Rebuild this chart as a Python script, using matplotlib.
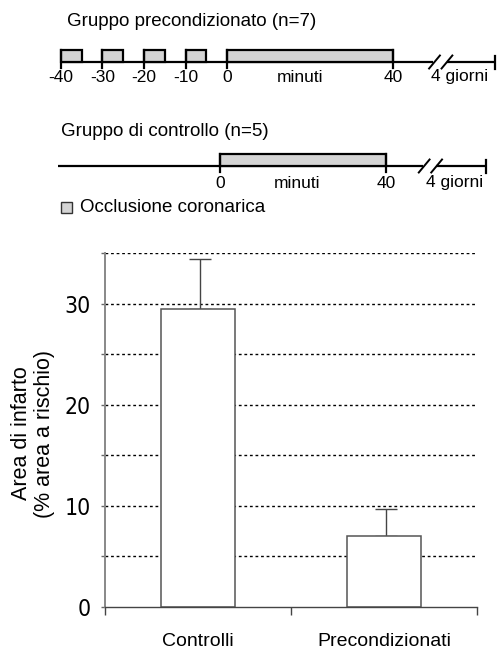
import matplotlib
matplotlib.use("Agg")
import matplotlib.pyplot as plt
from matplotlib.patches import Rectangle
from matplotlib import font_manager

# ---------------- data ----------------
groups = ["Controlli", "Precondizionati"]
infarct_mean = [29.5, 7.0]
infarct_sem = [4.9, 2.7]
y_major_ticks = [0, 10, 20, 30]
y_minor_ticks = [5, 15, 25, 35]

precond_occlusion_starts = [-40, -30, -20, -10, 0]
precond_occlusion_lengths = [5, 5, 5, 5, 40]
precond_tick_labels = ["-40", "-30", "-20", "-10", "0", "40"]
precond_tick_pos = [-40, -30, -20, -10, 0, 40]
control_occlusion_starts = [0]
control_occlusion_lengths = [40]
control_tick_labels = ["0", "40"]
control_tick_pos = [0, 40]

title_pre = "Gruppo precondizionato (n=7)"
title_ctl = "Gruppo di controllo (n=5)"
legend_text = "Occlusione coronarica"
ylabel = "Area di infarto\n(% area a rischio)"

W, H = 501, 650
fig = plt.figure(figsize=(W / 100, H / 100), dpi=100)
plt.rcParams['font.family'] = ['Liberation Sans', 'DejaVu Sans']

# pick a condensed font for the y tick labels if one is installed
narrow_family = None
narrow_stretch = "normal"
for f in font_manager.fontManager.ttflist:
    if "Narrow" in f.name and "Liberation" in f.name:
        narrow_family = f.name
        break
if narrow_family is None:
    for f in font_manager.fontManager.ttflist:
        if f.name == "DejaVu Sans" and str(f.stretch) in ("condensed", "semi-condensed", "600", "500") \
                and f.style == "normal" and f.weight in (400, "normal"):
            narrow_family = "DejaVu Sans"
            narrow_stretch = f.stretch
            break
if narrow_family is None:
    narrow_family = "Liberation Sans"

GRAY_FILL = "#d4d4d4"
LW = 1.6
SCALE = 4.15  # px per minute

def timeline_axes(zero_px):
    ax = fig.add_axes([0, 1 - 225 / H, 1, 225 / H])
    ax.set_xlim(-zero_px / SCALE, (W - zero_px) / SCALE)
    ax.set_ylim(225, 0)
    ax.axis("off")
    return ax

def draw_timeline(ax, y, box_h, start, brk, end, starts, lengths, tpos, tlabels, label_y,
                  minuti_x, giorni_x):
    ax.plot([start, brk - 0.9], [y, y], color="black", lw=LW, solid_capstyle="butt")
    ax.plot([brk + 2.3, end], [y, y], color="black", lw=LW, solid_capstyle="butt")
    for bx in (brk - 0.6, brk + 2.4):
        ax.plot([bx - 1.3, bx + 1.3], [y + 6.5, y - 6.5], color="black", lw=LW - 0.2)
    ax.plot([end, end], [y - 6.5, y + 6.5], color="black", lw=LW)
    for s, l in zip(starts, lengths):
        ax.add_patch(Rectangle((s, y - box_h), l, box_h, facecolor=GRAY_FILL,
                               edgecolor="black", lw=LW, zorder=3))
    for tp in tpos:
        ax.plot([tp, tp], [y - box_h, y + 6], color="black", lw=LW, zorder=4)
    for tp, tl in zip(tpos, tlabels):
        ax.text(tp, label_y, tl, ha="center", va="center", fontsize=12.5)
    ax.text(minuti_x, label_y, "minuti", ha="center", va="center", fontsize=12.5)
    ax.text(giorni_x, label_y, "4 giorni", ha="center", va="center", fontsize=12.5)

ax_t1 = timeline_axes(227)
draw_timeline(ax_t1, 62, 12, -40, 50.6, 64.6, precond_occlusion_starts,
              precond_occlusion_lengths, precond_tick_pos, precond_tick_labels, 77,
              17.5, 56.1)
ax_t1.text(-38.6, 21, title_pre, ha="left", va="center", fontsize=13.5)

ax_t2 = timeline_axes(220)
draw_timeline(ax_t2, 166, 12, -39, 49.8, 64.0, control_occlusion_starts,
              control_occlusion_lengths, control_tick_pos, control_tick_labels, 183,
              18.5, 56.5)
ax_t2.text(-38.3, 131, title_ctl, ha="left", va="center", fontsize=13.5)
ax_t2.add_patch(Rectangle((-38.3, 202), 2.6, 11, facecolor=GRAY_FILL, edgecolor="#333333", lw=1))
ax_t2.text(-33.7, 207.5, legend_text, ha="left", va="center", fontsize=13.5)

# ---------------- bar chart ----------------
ax = fig.add_axes([105 / W, (H - 606.7) / H, 372 / W, 353.4 / H])
x = [0.5, 1.5]
ax.set_axisbelow(True)
for yv in y_minor_ticks + y_major_ticks[1:]:
    ax.axhline(yv, color="black", lw=1.0, linestyle=(0, (2, 2)), zorder=0)
ax.bar(x, infarct_mean, width=0.4, color="white", edgecolor="#555555", lw=1.1, zorder=2)
ax.errorbar([xi + 0.01 for xi in x], infarct_mean, yerr=[[0, 0], infarct_sem], fmt="none",
            ecolor="#444444", elinewidth=1.0, capsize=8, capthick=1.0, zorder=1)
ax.set_xlim(0, 2)
ax.set_ylim(0, 35)
ax.set_xticks([0, 1, 2])
ax.set_xticklabels(["", "", ""])
ax.set_xticks(x, minor=True)
ax.set_xticklabels(groups, minor=True, fontsize=14)
ax.tick_params(axis="x", which="major", length=6, width=1, color="#444444")
ax.tick_params(axis="x", which="minor", length=0, pad=19)
ax.set_yticks(y_major_ticks)
ax.set_yticks(y_minor_ticks, minor=True)
ax.set_yticklabels([str(v) for v in y_major_ticks])
for lab in ax.get_yticklabels():
    lab.set_fontfamily([narrow_family, 'Liberation Sans'])
    lab.set_fontstretch(narrow_stretch)
    lab.set_fontsize(16.5)
ax.tick_params(axis="y", which="both", length=3, width=1, color="#666666", pad=7)
for s in ("top", "right"):
    ax.spines[s].set_visible(False)
ax.spines["left"].set_color("#888888")
ax.spines["left"].set_linewidth(1.4)
ax.spines["bottom"].set_color("#444444")
ax.spines["bottom"].set_linewidth(1.0)
ax.set_ylabel(ylabel, fontsize=15.5, linespacing=1.15)
ax.yaxis.set_label_coords(-0.134, 0.49)

fig.savefig("out.png", dpi=100)
